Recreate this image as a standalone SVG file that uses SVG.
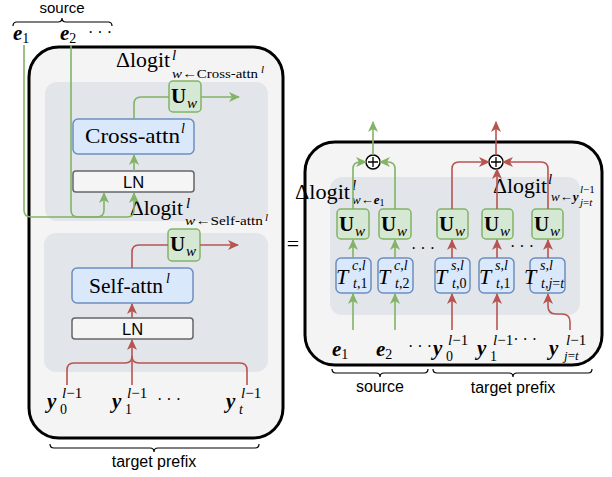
<svg xmlns="http://www.w3.org/2000/svg" width="612" height="477" viewBox="0 0 612 477">
<style>
.panel{fill:#f4f4f4;stroke:#000;stroke-width:3}
.gray{fill:#e2e5e9;stroke:none}
.uw{fill:#d5e8d4;stroke:#82b366;stroke-width:1.5}
.blue{fill:#dae8fc;stroke:#6c8ebf;stroke-width:1.5}
.ln{fill:#f5f5f5;stroke:#666;stroke-width:1.5}
.g{fill:none;stroke:#82b366;stroke-width:1.6}
.r{fill:none;stroke:#b85450;stroke-width:1.6}
.ga{marker-end:url(#mg)}
.ra{marker-end:url(#mr)}
.brace{fill:none;stroke:#000;stroke-width:1.2}
.sans{font-family:"Liberation Sans",Arial,sans-serif;fill:#000}
.serif{font-family:"Liberation Serif","Times New Roman",serif;fill:#000}
.bi{font-family:"Liberation Serif","Times New Roman",serif;font-weight:bold;font-style:italic}
.it{font-style:italic}
.plus{fill:#fff;stroke:#000;stroke-width:1.5}
</style>
<defs>
<marker id="mg" markerUnits="userSpaceOnUse" markerWidth="11" markerHeight="11" refX="10" refY="5" orient="auto" viewBox="0 0 11 10"><path d="M0,0 L11,5 L0,10 L3,5 z" fill="#82b366"/></marker>
<marker id="mr" markerUnits="userSpaceOnUse" markerWidth="11" markerHeight="11" refX="10" refY="5" orient="auto" viewBox="0 0 11 10"><path d="M0,0 L11,5 L0,10 L3,5 z" fill="#b85450"/></marker>
</defs>

<!-- LEFT PANEL -->
<g id="left-panel">
<rect class="panel" x="29" y="47" width="254" height="391" rx="30"/>
<rect class="gray" x="45" y="82" width="223" height="139" rx="12"/>
<rect class="gray" x="44" y="233" width="224" height="139" rx="12"/>
</g>

<g id="source-top">
<text class="sans" x="62" y="13" font-size="15" text-anchor="middle">source</text>
<path class="brace" d="M13,26 q0,-4 4,-4 H58 q4,0 4,-4 q0,4 4,4 H108 q4,0 4,4"/>
<text class="serif" x="13" y="40" font-size="21"><tspan class="bi">e</tspan><tspan font-size="14" dy="3">1</tspan></text>
<text class="serif" x="60" y="40" font-size="21"><tspan class="bi">e</tspan><tspan font-size="14" dy="3">2</tspan></text>
<text class="serif" x="88" y="38" font-size="16">· · ·</text>
</g>

<g id="dlogit-cross">
<text class="serif" x="116" y="67" font-size="21" textLength="54" lengthAdjust="spacingAndGlyphs">Δlogit</text>
<text class="serif it" x="172" y="60" font-size="15">l</text>
<text class="serif" x="172" y="78" font-size="13" textLength="86" lengthAdjust="spacingAndGlyphs"><tspan class="it">w</tspan>←Cross-attn</text>
<text class="serif it" x="261" y="73" font-size="11">l</text>
</g>

<g id="uw-cross">
<rect class="uw" x="169" y="81" width="32" height="31" rx="4"/>
<text class="serif" x="171" y="103" font-size="21" font-weight="bold">U</text>
<text class="serif it" x="187" y="108" font-size="15">w</text>
</g>

<g id="cross-attn">
<rect class="blue" x="73" y="119" width="121" height="35" rx="5"/>
<text class="serif" x="85" y="143" font-size="21" textLength="95" lengthAdjust="spacingAndGlyphs">Cross-attn</text>
<text class="serif it" x="181" y="133" font-size="14">l</text>
</g>

<g id="ln-cross">
<rect class="ln" x="73" y="171" width="121" height="21" rx="3"/>
<text class="sans" x="133.5" y="187.5" font-size="16.5" text-anchor="middle">LN</text>
</g>

<g id="dlogit-self">
<text class="serif" x="130" y="215" font-size="21" textLength="53" lengthAdjust="spacingAndGlyphs">Δlogit</text>
<text class="serif it" x="186" y="208" font-size="15">l</text>
<text class="serif" x="185" y="225" font-size="13" textLength="78" lengthAdjust="spacingAndGlyphs"><tspan class="it">w</tspan>←Self-attn</text>
<text class="serif it" x="265" y="221" font-size="11">l</text>
</g>

<g id="uw-self">
<rect class="uw" x="168" y="229" width="32" height="32" rx="4"/>
<text class="serif" x="170" y="251" font-size="21" font-weight="bold">U</text>
<text class="serif it" x="186" y="256" font-size="15">w</text>
</g>

<g id="self-attn">
<rect class="blue" x="72" y="268" width="121" height="35" rx="5"/>
<text class="serif" x="89" y="293" font-size="21" textLength="74" lengthAdjust="spacingAndGlyphs">Self-attn</text>
<text class="serif it" x="166" y="283" font-size="14">l</text>
</g>

<g id="ln-self">
<rect class="ln" x="72" y="318" width="121" height="21" rx="3"/>
<text class="sans" x="132.5" y="334.5" font-size="16.5" text-anchor="middle">LN</text>
</g>

<g id="target-left">
<text class="serif" x="47" y="408" font-size="21"><tspan class="bi">y</tspan></text>
<text class="serif" x="62" y="398" font-size="15"><tspan class="it">l</tspan>−1</text>
<text class="serif" x="60" y="414" font-size="14">0</text>
<text class="serif" x="112" y="408" font-size="21"><tspan class="bi">y</tspan></text>
<text class="serif" x="127" y="398" font-size="15"><tspan class="it">l</tspan>−1</text>
<text class="serif" x="125" y="414" font-size="14">1</text>
<text class="serif" x="157" y="405" font-size="16">· · ·</text>
<text class="serif" x="226" y="408" font-size="21"><tspan class="bi">y</tspan></text>
<text class="serif" x="241" y="398" font-size="15"><tspan class="it">l</tspan>−1</text>
<text class="serif it" x="239" y="414" font-size="14">t</text>
<path class="brace" d="M50,444 q0,4 4,4 H150 q4,0 4,4 q0,-4 4,-4 H255 q4,0 4,-4"/>
<text class="sans" x="154" y="467" font-size="16" text-anchor="middle">target prefix</text>
</g>

<text class="serif" x="293" y="251" font-size="22" text-anchor="middle">=</text>

<!-- RIGHT PANEL -->
<g id="right-panel">
<rect class="panel" x="305" y="142" width="297" height="223" rx="30"/>
<rect class="gray" x="330" y="177" width="250" height="138" rx="12"/>
</g>

<g id="plus-green">
<circle class="plus" cx="373" cy="162" r="7"/>
<path d="M368,162 H378 M373,157 V167" stroke="#000" stroke-width="1.3"/>
</g>
<g id="plus-red">
<circle class="plus" cx="496" cy="162" r="7"/>
<path d="M491,162 H501 M496,157 V167" stroke="#000" stroke-width="1.3"/>
</g>

<g id="dlogit-e1">
<text class="serif" x="295" y="199" font-size="21" textLength="55" lengthAdjust="spacingAndGlyphs">Δlogit</text>
<text class="serif it" x="352" y="190" font-size="15">l</text>
<text class="serif" x="352" y="204" font-size="13"><tspan class="it">w</tspan>←<tspan class="bi">e</tspan><tspan font-size="10" dy="2">1</tspan></text>
</g>

<g id="dlogit-y">
<text class="serif" x="493" y="193" font-size="21" textLength="54" lengthAdjust="spacingAndGlyphs">Δlogit</text>
<text class="serif it" x="548" y="184" font-size="15">l</text>
<text class="serif" x="551" y="201" font-size="13"><tspan class="it">w</tspan>←<tspan class="bi">y</tspan></text>
<text class="serif" x="580" y="193" font-size="11"><tspan class="it">l</tspan>−1</text>
<text class="serif it" x="580" y="206" font-size="11">j<tspan font-style="normal">=</tspan>t</text>
</g>

<g id="uw-r1"><rect class="uw" x="337" y="209" width="32" height="30" rx="4"/><text class="serif" x="339" y="231" font-size="21" font-weight="bold">U</text><text class="serif it" x="355" y="236" font-size="15">w</text></g>
<g id="uw-r2"><rect class="uw" x="379" y="209" width="32" height="30" rx="4"/><text class="serif" x="381" y="231" font-size="21" font-weight="bold">U</text><text class="serif it" x="397" y="236" font-size="15">w</text></g>
<g id="uw-r3"><rect class="uw" x="437" y="209" width="31" height="30" rx="4"/><text class="serif" x="439" y="231" font-size="21" font-weight="bold">U</text><text class="serif it" x="455" y="236" font-size="15">w</text></g>
<g id="uw-r4"><rect class="uw" x="482" y="209" width="31" height="30" rx="4"/><text class="serif" x="484" y="231" font-size="21" font-weight="bold">U</text><text class="serif it" x="500" y="236" font-size="15">w</text></g>
<g id="uw-r5"><rect class="uw" x="532" y="209" width="31" height="30" rx="4"/><text class="serif" x="534" y="231" font-size="21" font-weight="bold">U</text><text class="serif it" x="550" y="236" font-size="15">w</text></g>

<text class="serif" x="411" y="254" font-size="16">· · ·</text>
<text class="serif" x="510" y="252" font-size="16">· · ·</text>

<g id="t1"><rect class="blue" x="336" y="258" width="35" height="35" rx="5"/>
<text class="serif it" x="336" y="284" font-size="22">T</text>
<text class="serif" x="352" y="270" font-size="14"><tspan class="it">c</tspan>,<tspan class="it">l</tspan></text>
<text class="serif" x="353" y="288" font-size="14"><tspan class="it">t</tspan>,1</text></g>
<g id="t2"><rect class="blue" x="378" y="258" width="35" height="35" rx="5"/>
<text class="serif it" x="378" y="284" font-size="22">T</text>
<text class="serif" x="394" y="270" font-size="14"><tspan class="it">c</tspan>,<tspan class="it">l</tspan></text>
<text class="serif" x="395" y="288" font-size="14"><tspan class="it">t</tspan>,2</text></g>
<g id="t3"><rect class="blue" x="435" y="258" width="35" height="35" rx="5"/>
<text class="serif it" x="435" y="284" font-size="22">T</text>
<text class="serif" x="451" y="270" font-size="14"><tspan class="it">s</tspan>,<tspan class="it">l</tspan></text>
<text class="serif" x="452" y="288" font-size="14"><tspan class="it">t</tspan>,0</text></g>
<g id="t4"><rect class="blue" x="479" y="258" width="35" height="35" rx="5"/>
<text class="serif it" x="479" y="284" font-size="22">T</text>
<text class="serif" x="495" y="270" font-size="14"><tspan class="it">s</tspan>,<tspan class="it">l</tspan></text>
<text class="serif" x="496" y="288" font-size="14"><tspan class="it">t</tspan>,1</text></g>
<g id="t5"><rect class="blue" x="530" y="258" width="35" height="35" rx="5"/>
<text class="serif it" x="524" y="284" font-size="22">T</text>
<text class="serif" x="540" y="270" font-size="14"><tspan class="it">s</tspan>,<tspan class="it">l</tspan></text>
<text class="serif" x="541" y="288" font-size="14"><tspan class="it">t</tspan>,<tspan class="it">j</tspan>=<tspan class="it">t</tspan></text></g>

<g id="inputs-right">
<text class="serif" x="332" y="356" font-size="21"><tspan class="bi">e</tspan><tspan font-size="14" dy="3">1</tspan></text>
<text class="serif" x="376" y="356" font-size="21"><tspan class="bi">e</tspan><tspan font-size="14" dy="3">2</tspan></text>
<text class="serif" x="408" y="352" font-size="16">· · ·</text>
<text class="serif" x="433" y="355" font-size="21"><tspan class="bi">y</tspan></text>
<text class="serif" x="448" y="345" font-size="15"><tspan class="it">l</tspan>−1</text>
<text class="serif" x="446" y="361" font-size="14">0</text>
<text class="serif" x="477" y="355" font-size="21"><tspan class="bi">y</tspan></text>
<text class="serif" x="493" y="345" font-size="15"><tspan class="it">l</tspan>−1<tspan font-size="16">· · ·</tspan></text>
<text class="serif" x="490" y="361" font-size="14">1</text>
<text class="serif" x="549" y="355" font-size="21"><tspan class="bi">y</tspan></text>
<text class="serif" x="566" y="345" font-size="15"><tspan class="it">l</tspan>−1</text>
<text class="serif" x="564" y="360" font-size="13"><tspan class="it">j</tspan>=<tspan class="it">t</tspan></text>
<path class="brace" d="M332,369 q0,4 4,4 H376 q4,0 4,4 q0,-4 4,-4 H424 q4,0 4,-4"/>
<text class="sans" x="380" y="392" font-size="16" text-anchor="middle">source</text>
<path class="brace" d="M433,369 q0,4 4,4 H509 q4,0 4,4 q0,-4 4,-4 H588 q4,0 4,-4"/>
<text class="sans" x="513" y="393" font-size="16" text-anchor="middle">target prefix</text>
</g>

<!-- CONNECTORS -->
<g id="connectors">
<path class="g ga" d="M24,45 V210 Q24,217 31,217 H97 Q104,217 104,210 V193"/>
<path class="g ga" d="M71,45 V210 Q71,217 78,217 H127 Q134,217 134,210 V193"/>
<path class="g ga" d="M134,171 V155"/>
<path class="g" d="M134,119 V104 Q134,97 141,97 H169"/>
<path class="g ga" d="M201,97 H239"/>
<path class="r" d="M132,268 V252 Q132,245 139,245 H168"/>
<path class="r ra" d="M200,245 H238"/>
<path class="r ra" d="M132,318 V304"/>
<path class="r" d="M67,385 V370 Q67,363 74,363 H125 Q132,363 132,356"/>
<path class="r" d="M247,385 V370 Q247,363 240,363 H139 Q132,363 132,356"/>
<path class="r ra" d="M132,385 V340"/>

<path class="g ga" d="M373,155 V122"/>
<path class="r ra" d="M496,155 V122"/>
<path class="g ga" d="M353,209 V169 Q353,162 360,162 H366"/>
<path class="g ga" d="M395,209 V169 Q395,162 388,162 H380"/>
<path class="r ra" d="M452,209 V169 Q452,162 459,162 H489"/>
<path class="r ra" d="M497,209 V169"/>
<path class="r ra" d="M548,209 V169 Q548,162 541,162 H503"/>

<path class="g ga" d="M353,258 V240"/>
<path class="g ga" d="M395,258 V240"/>
<path class="r ra" d="M452,258 V240"/>
<path class="r ra" d="M497,258 V240"/>
<path class="r ra" d="M548,258 V240"/>

<path class="g ga" d="M353,330 V294"/>
<path class="g ga" d="M395,330 V294"/>
<path class="r ra" d="M452,330 V294"/>
<path class="r ra" d="M497,330 V294"/>
<path class="r ra" d="M570,330 V322 Q570,314 562,314 H556 Q548,314 548,306 V294"/>
</g>
</svg>
